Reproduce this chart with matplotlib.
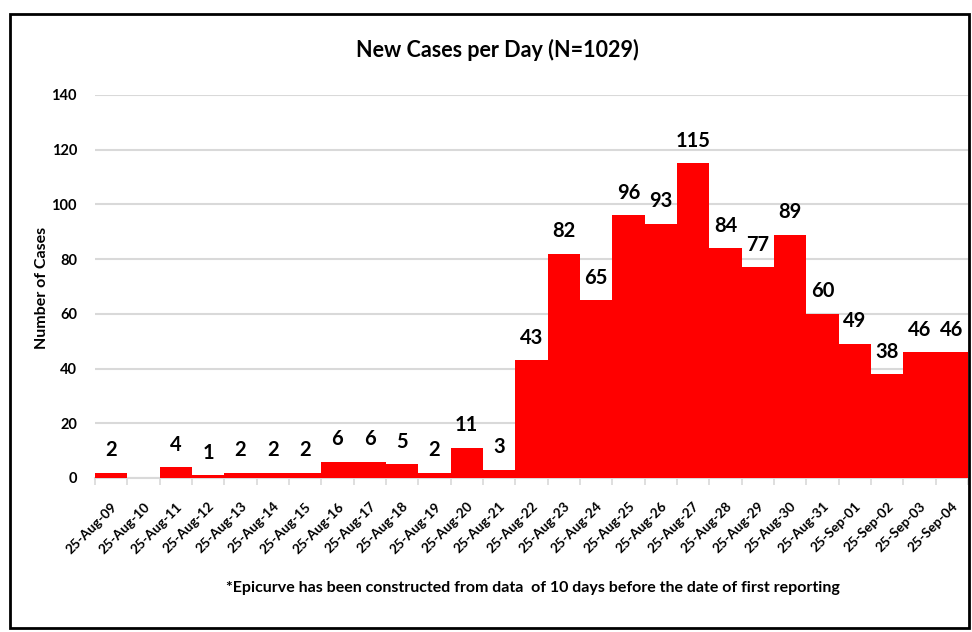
import matplotlib
matplotlib.use("Agg")
import matplotlib.pyplot as plt
from matplotlib.patches import Rectangle
import numpy as np

plt.rcParams['font.family'] = ['Lato', 'DejaVu Sans']
plt.rcParams['font.weight'] = 'bold'

# Data read from the epicurve
dates = ['25-Aug-09', '25-Aug-10', '25-Aug-11', '25-Aug-12', '25-Aug-13', '25-Aug-14',
         '25-Aug-15', '25-Aug-16', '25-Aug-17', '25-Aug-18', '25-Aug-19', '25-Aug-20',
         '25-Aug-21', '25-Aug-22', '25-Aug-23', '25-Aug-24', '25-Aug-25', '25-Aug-26',
         '25-Aug-27', '25-Aug-28', '25-Aug-29', '25-Aug-30', '25-Aug-31', '25-Sep-01',
         '25-Sep-02', '25-Sep-03', '25-Sep-04']
cases = [2, 0, 4, 1, 2, 2, 2, 6, 6, 5, 2, 11, 3, 43, 82, 65, 96, 93, 115, 84,
         77, 89, 60, 49, 38, 46, 46]
y_ticks = [0, 20, 40, 60, 80, 100, 120, 140]

fig = plt.figure(figsize=(9.72, 6.32), dpi=100)
ax = fig.add_axes([0.0977, 0.2437, 0.8981, 0.606])

x = np.arange(len(cases))
ax.bar(x, cases, width=1.0, color='#ff0000', edgecolor='none', zorder=3)

# value labels (zero is left blank)
for xi, v in zip(x, cases):
    if v > 0:
        ax.annotate(str(v), (xi, v), xytext=(0, 9), textcoords='offset points',
                    ha='center', va='bottom', fontsize=14.5, fontweight='bold')

ax.set_xlim(-0.5, len(cases) - 0.5)
ax.set_ylim(0, 140)
ax.set_yticks(y_ticks)
ax.set_yticklabels([str(t) for t in y_ticks], fontsize=10.5, fontweight='bold')
ax.tick_params(axis='y', length=0, pad=13)

ax.set_xticks(x)
ax.set_xticklabels(dates, rotation=45, ha='right', rotation_mode='anchor',
                   fontsize=9.8, fontweight='bold')
ax.tick_params(axis='x', which='major', length=0, pad=16)
ax.set_xticks(np.arange(-0.5, len(cases), 1.0), minor=True)
ax.tick_params(axis='x', which='minor', length=5, color='#d9d9d9', width=1.2)

ax.grid(axis='y', color='#d9d9d9', linewidth=1.5, zorder=0)
for s in ['top', 'right', 'left']:
    ax.spines[s].set_visible(False)
ax.spines['bottom'].set_color('#d9d9d9')
ax.spines['bottom'].set_linewidth(1.5)

fig.text(0.512, 0.921, 'New Cases per Day (N=1029)', ha='center', va='center',
         fontsize=15.5, fontweight='bold')
fig.text(0.043, 0.545, 'Number of Cases', rotation=90, ha='center', va='center',
         fontsize=11.5, fontweight='bold')
fig.text(0.548, 0.069,
         '*Epicurve has been constructed from data  of 10 days before the date of first reporting',
         ha='center', va='center', fontsize=11.5, fontweight='bold')

# outer border
fig.patches.append(Rectangle((10 / 972, 1 - 628 / 632), 959 / 972, 614 / 632,
                             transform=fig.transFigure, fill=False,
                             edgecolor='black', linewidth=2))

fig.savefig('out.png', dpi=100)
